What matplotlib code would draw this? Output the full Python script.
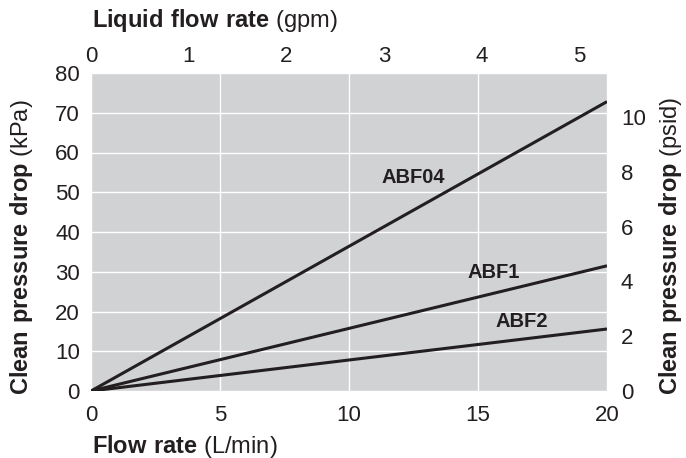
import matplotlib
matplotlib.use("Agg")
import matplotlib.pyplot as plt
import numpy as np

plt.rcParams['font.family'] = ['Liberation Sans', 'DejaVu Sans']
plt.rcParams['mathtext.fontset'] = 'custom'
plt.rcParams['mathtext.rm'] = 'Liberation Sans'
plt.rcParams['mathtext.bf'] = 'Liberation Sans:bold'

# Data
flow_lpm = [0, 20]
series_names = ["ABF04", "ABF1", "ABF2"]
series_kpa = {
    "ABF04": [0, 72.8],
    "ABF1": [0, 31.5],
    "ABF2": [0, 15.6],
}
label_pos = {
    "ABF04": (12.5, 53.8),
    "ABF1": (15.6, 29.9),
    "ABF2": (16.7, 17.4),
}
x_ticks = [0, 5, 10, 15, 20]
y_ticks = [0, 10, 20, 30, 40, 50, 60, 70, 80]
gpm_ticks = [0, 1, 2, 3, 4, 5]
psid_ticks = [0, 2, 4, 6, 8, 10]

LPM_PER_GPM = 3.78541
KPA_PER_PSI = 6.89476

txt = '#231f20'
tick_fs = 16
lab_fs = 17
W, H = 686, 458
fig = plt.figure(figsize=(6.86, 4.58), dpi=100)
ax = fig.add_axes([91/W, 1 - 391/H, 516/W, 318/H])
ax.set_facecolor('#d1d2d4')
for s in ax.spines.values():
    s.set_visible(False)
ax.set_xlim(0, 20)
ax.set_ylim(0, 80)
ax.set_xticks(x_ticks)
ax.set_yticks(y_ticks)
ax.grid(True, color='white', linewidth=1.0)
ax.set_axisbelow(True)
ax.tick_params(length=0, labelsize=tick_fs, colors=txt, pad=10)
ax.tick_params(axis='y', pad=8)

for name in series_names:
    ax.plot(flow_lpm, series_kpa[name], color=txt, linewidth=2.2, solid_capstyle='butt')
    lx, ly = label_pos[name]
    ax.text(lx, ly, name, fontsize=14.5, fontweight='bold', color=txt, ha='center', va='center')

top = ax.secondary_xaxis('top', functions=(lambda x: x / LPM_PER_GPM, lambda g: g * LPM_PER_GPM))
top.set_ticks(gpm_ticks)
top.tick_params(length=0, labelsize=tick_fs, colors=txt, pad=4)
for s in top.spines.values():
    s.set_visible(False)

right = ax.secondary_yaxis('right', functions=(lambda k: k / KPA_PER_PSI, lambda p: p * KPA_PER_PSI))
right.set_ticks(psid_ticks)
right.tick_params(length=0, labelsize=tick_fs, colors=txt, pad=10)
for s in right.spines.values():
    s.set_visible(False)

# Axis titles placed in figure pixels
fig.text(92/W, 1 - 446/H, r"$\bf{Flow\ rate}$ (L/min)", fontsize=lab_fs, color=txt,
         ha='left', va='center')
fig.text(92/W, 1 - 20/H, r"$\bf{Liquid\ flow\ rate}$ (gpm)", fontsize=lab_fs, color=txt,
         ha='left', va='center')
fig.text(22/W, 1 - 395/H, r"$\bf{Clean\ pressure\ drop}$ (kPa)", fontsize=lab_fs, color=txt,
         ha='center', va='bottom', rotation=90)
fig.text(671/W, 1 - 395/H, r"$\bf{Clean\ pressure\ drop}$ (psid)", fontsize=lab_fs, color=txt,
         ha='center', va='bottom', rotation=90)

fig.savefig("out.png", dpi=100)
